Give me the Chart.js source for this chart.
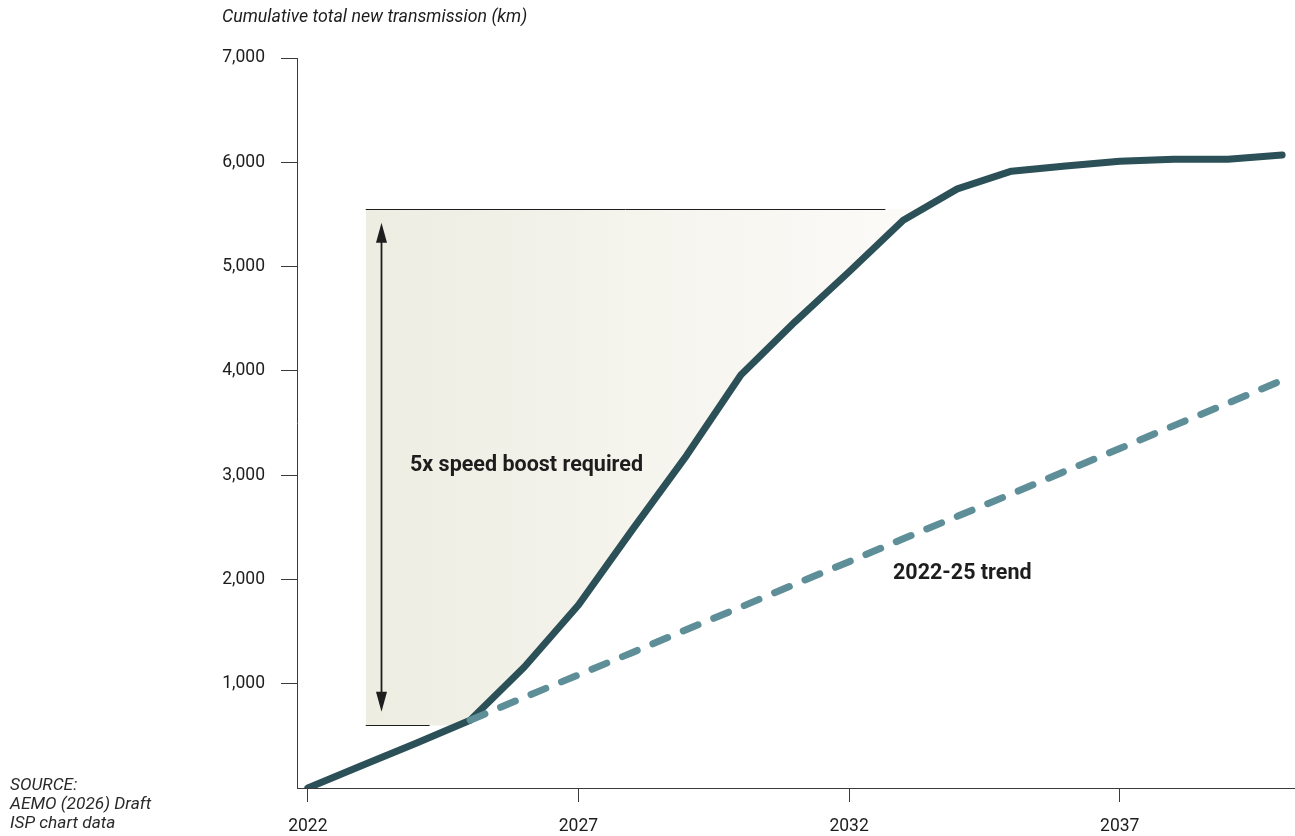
<!DOCTYPE html>
<html>
<head>
<meta charset="utf-8">
<title>Cumulative total new transmission</title>
<script src="https://cdn.jsdelivr.net/npm/chart.js@4"></script>
<style>
  html, body { margin: 0; padding: 0; background: #ffffff; }
  #wrap { width: 1295px; height: 836px; position: relative; }
</style>
</head>
<body>
<div id="wrap"><canvas id="c" width="1295" height="836"></canvas></div>
<script>
// Years on the horizontal axis
const years = [2022, 2023, 2024, 2025, 2026, 2027, 2028, 2029, 2030, 2031,
               2032, 2033, 2034, 2035, 2036, 2037, 2038, 2039, 2040];
// Draft ISP cumulative new transmission (km)
const ispKm = [0, 215, 430, 650, 1160, 1755, 2480, 3190, 3960, 4470,
               4950, 5445, 5745, 5915, 5965, 6010, 6030, 6030, 6070];
// Continuation of the 2022-25 build rate (km), from 2025 onwards
const trendYears = [2025, 2026, 2027, 2028, 2029, 2030, 2031, 2032,
                    2033, 2034, 2035, 2036, 2037, 2038, 2039, 2040];
const trendKm = [650, 870, 1085, 1300, 1520, 1735, 1955, 2170,
                 2390, 2605, 2820, 3040, 3255, 3475, 3690, 3910];
// Tick labels
const xTickYears = [2022, 2027, 2032, 2037];
const yTickKm = [1000, 2000, 3000, 4000, 5000, 6000, 7000];

// Gap bracket (data coordinates)
const gapTopKm = 5550;
const gapBottomKm = 600;
const gapLeftYear = 2023.07;
const gapTopEndYear = 2032.67;
const gapBottomEndYear = 2024.25;
const arrowYear = 2023.35;
const arrowTopKm = 5420;
const arrowBottomKm = 730;

const FONT = 'Roboto, "Noto Sans", sans-serif';
const TEXT = '#1d1d1d';

const ispPoints = years.map((y, i) => ({ x: y, y: ispKm[i] }));
const trendPoints = trendYears.map((y, i) => ({ x: y, y: trendKm[i] }));

// Shaded gap area, bracket lines and the double-headed arrow
const gapPlugin = {
  id: 'gap',
  beforeDatasetsDraw(chart) {
    const { ctx, scales: { x, y } } = chart;
    const xl = x.getPixelForValue(gapLeftYear);
    const xr = x.getPixelForValue(gapTopEndYear);
    const yt = y.getPixelForValue(gapTopKm);
    const yb = y.getPixelForValue(gapBottomKm);

    ctx.save();
    ctx.beginPath();
    ctx.rect(xl, yt, chart.chartArea.right - xl, yb - yt);
    ctx.clip();
    // region left of the ISP curve
    const pts = ispPoints.filter(p => p.x >= 2024 && p.x <= 2035);
    ctx.beginPath();
    ctx.moveTo(xl, y.getPixelForValue(pts[0].y));
    pts.forEach(p => ctx.lineTo(x.getPixelForValue(p.x), y.getPixelForValue(p.y)));
    ctx.lineTo(xl, y.getPixelForValue(pts[pts.length - 1].y));
    ctx.closePath();
    const g = ctx.createLinearGradient(xl, 0, xr, 0);
    g.addColorStop(0, '#eeede2');
    g.addColorStop(1, '#fbfaf7');
    ctx.fillStyle = g;
    ctx.fill();
    ctx.restore();

    ctx.save();
    ctx.strokeStyle = '#1e1e1e';
    ctx.lineWidth = 1;
    ctx.beginPath();
    ctx.moveTo(xl, Math.round(yt) + 0.5);
    ctx.lineTo(xr, Math.round(yt) + 0.5);
    ctx.moveTo(xl, Math.round(yb) + 0.5);
    ctx.lineTo(x.getPixelForValue(gapBottomEndYear), Math.round(yb) + 0.5);
    ctx.stroke();

    // arrow
    const ax = Math.round(x.getPixelForValue(arrowYear)) + 0.5;
    const at = y.getPixelForValue(arrowTopKm);
    const ab = y.getPixelForValue(arrowBottomKm);
    const headL = 20, headW = 5.5;
    ctx.strokeStyle = '#1e1e1e';
    ctx.lineWidth = 1.8;
    ctx.beginPath();
    ctx.moveTo(ax, at + headL - 2);
    ctx.lineTo(ax, ab - headL + 2);
    ctx.stroke();
    ctx.fillStyle = '#1e1e1e';
    ctx.beginPath();
    ctx.moveTo(ax, at);
    ctx.lineTo(ax - headW, at + headL);
    ctx.lineTo(ax + headW, at + headL);
    ctx.closePath();
    ctx.fill();
    ctx.beginPath();
    ctx.moveTo(ax, ab);
    ctx.lineTo(ax - headW, ab - headL);
    ctx.lineTo(ax + headW, ab - headL);
    ctx.closePath();
    ctx.fill();
    ctx.restore();
  },
  afterDraw(chart) {
    const { ctx } = chart;
    ctx.save();
    ctx.fillStyle = TEXT;
    ctx.textBaseline = 'middle';
    ctx.textAlign = 'left';
    ctx.font = 'italic 17.8px ' + FONT;
    ctx.fillText('Cumulative total new transmission (km)', 222, 18);

    ctx.font = 'bold 21.5px ' + FONT;
    ctx.fillText('5x speed boost required', 410, 466);
    ctx.fillText('2022-25 trend', 893, 574);

    ctx.fillStyle = '#2a2a2a';
    ctx.font = 'italic 17.3px ' + FONT;
    ctx.fillText('SOURCE:', 10, 786);
    ctx.fillText('AEMO (2026) Draft', 10, 805);
    ctx.fillText('ISP chart data', 10, 824);
    ctx.restore();
  }
};

new Chart(document.getElementById('c'), {
  type: 'line',
  data: {
    datasets: [
      {
        label: '2022-25 trend',
        data: trendPoints,
        borderColor: '#5e8f99',
        borderWidth: 7,
        borderDash: [16, 17],
        borderCapStyle: 'round',
        borderJoinStyle: 'round',
        pointRadius: 0,
        tension: 0,
        order: 0
      },
      {
        label: 'Draft ISP',
        data: ispPoints,
        borderColor: '#2b5057',
        borderWidth: 7,
        borderCapStyle: 'round',
        borderJoinStyle: 'round',
        pointRadius: 0,
        tension: 0,
        order: 1
      }
    ]
  },
  options: {
    responsive: false,
    animation: false,
    events: [],
    layout: { padding: { top: 58, right: 1, bottom: 0, left: 0 } },
    plugins: { legend: { display: false }, tooltip: { enabled: false } },
    scales: {
      x: {
        type: 'linear',
        min: 2021.8,
        max: 2040.22,
        afterBuildTicks: s => { s.ticks = xTickYears.map(v => ({ value: v })); },
        afterFit: s => { s.height = 48; },
        border: { display: true, color: '#3a3a3a', width: 1 },
        grid: { drawOnChartArea: false, drawTicks: true, tickLength: 14, color: '#3a3a3a', lineWidth: 1 },
        ticks: {
          callback: v => String(v),
          color: TEXT,
          font: { family: FONT, size: 17.5 },
          padding: 14,
          maxRotation: 0,
          autoSkip: false
        }
      },
      y: {
        type: 'linear',
        min: 0,
        max: 7000,
        afterBuildTicks: s => { s.ticks = yTickKm.map(v => ({ value: v })); },
        afterFit: s => { s.width = 297; },
        border: { display: true, color: '#3a3a3a', width: 1 },
        grid: { drawOnChartArea: false, drawTicks: true, tickLength: 16, color: '#3a3a3a', lineWidth: 1 },
        ticks: {
          callback: v => v.toLocaleString('en-US'),
          color: TEXT,
          font: { family: FONT, size: 17.5 },
          padding: 16,
          autoSkip: false
        }
      }
    }
  },
  plugins: [gapPlugin]
});
</script>
</body>
</html>
